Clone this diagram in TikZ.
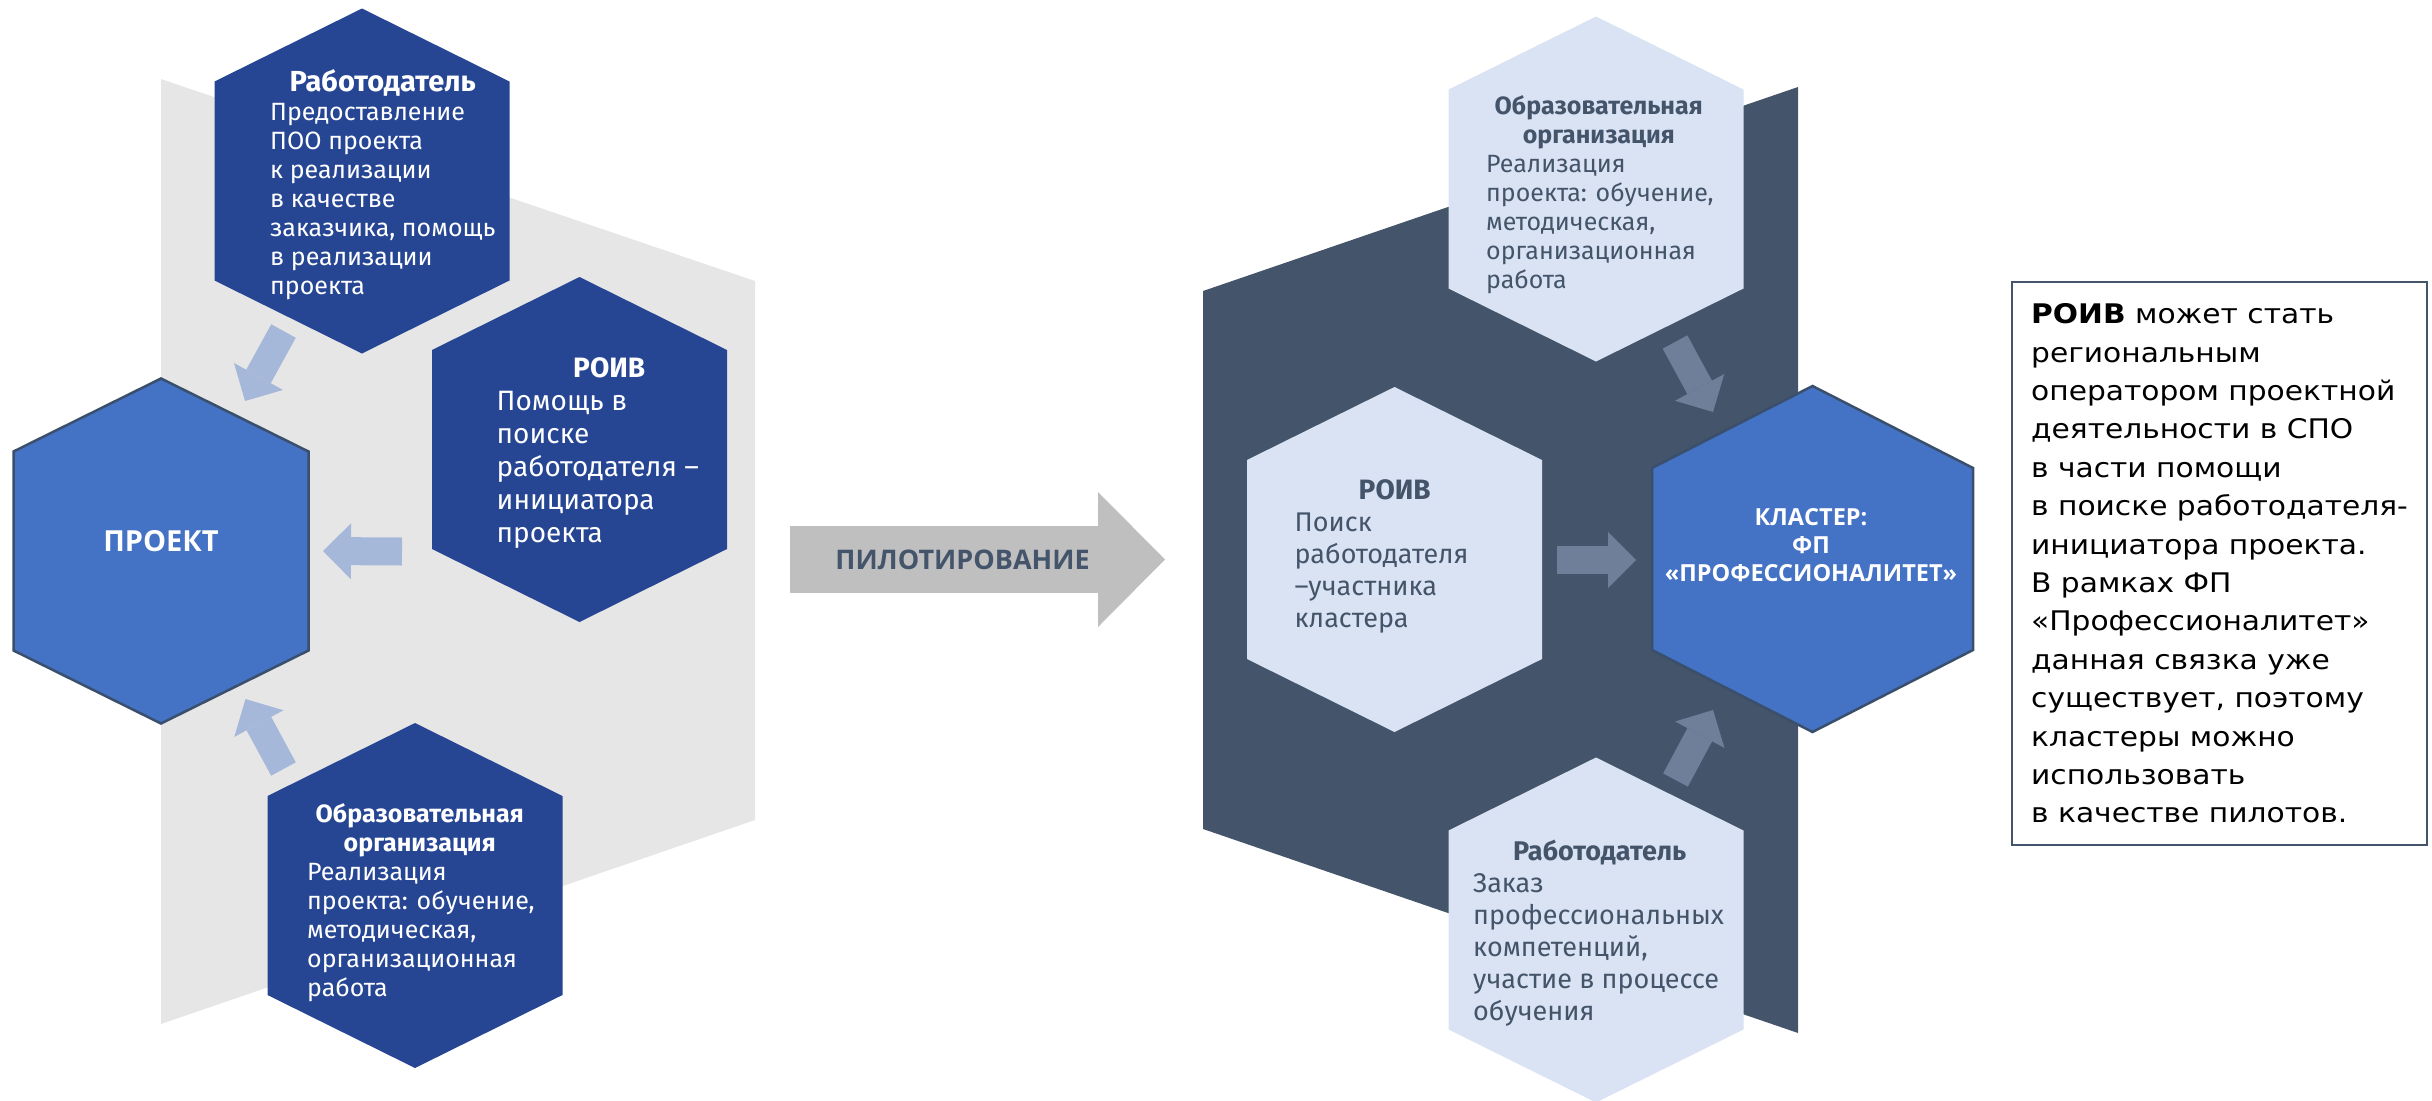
\documentclass[tikz,border=0pt]{standalone}
\usepackage{fontspec}
\setmainfont{Fira Sans}
\newfontfamily\notefont[FakeStretch=1.1]{DejaVu Sans}
\newfontfamily\capsfont{Open Sans}
\usetikzlibrary{arrows.meta,calc}

\definecolor{darkhex}{HTML}{264694}
\definecolor{midhex}{HTML}{4472C4}
\definecolor{palehex}{HTML}{DAE3F3}
\definecolor{slate}{HTML}{44546A}
\definecolor{hexrim}{HTML}{3A4F6C}
\definecolor{lightbg}{HTML}{E7E6E6}
\definecolor{paleflow}{HTML}{A5B8DA}
\definecolor{slateflow}{HTML}{6F7F99}
\definecolor{pilotgray}{HTML}{BFBFBF}

\begin{document}
\begin{tikzpicture}[x=1pt,y=-1pt,
    flowleft/.style={draw=paleflow,line width=28pt,-{Triangle[length=28pt,width=56pt,line width=0pt]}},
    flowright/.style={flowleft,draw=slateflow},
    pilotarrow/.style={draw=pilotgray,line width=67pt,-{Triangle[length=67pt,width=135pt,line width=0pt]}},
    hexsmall/.style={anchor=north west,align=left,inner sep=0pt,font=\fontsize{25}{29}\selectfont},
    hexlarge/.style={hexsmall,font=\fontsize{27}{32}\selectfont},
    hexcaps/.style={inner sep=0pt,align=center,text=white,font=\capsfont\bfseries\fontsize{23.5}{28}\selectfont}]
            \useasboundingbox (0,0) rectangle (2432,1100);

            \newcommand\Hexa[3]{+(0,-#2) -- +(#1,-#3) -- +(#1,#3) -- +(0,#2) -- +(-#1,#3) -- +(-#1,-#3) -- cycle}
            \newcommand\Head[3]{\makebox[#1pt]{\fontsize{#2}{30}\selectfont\bfseries #3}}

            \fill[lightbg] (161,79) -- (755,281) -- (755,820) -- (161,1024) -- cycle;
            \fill[slate] (1203,291) -- (1798,87) -- (1798,1033) -- (1203,829) -- cycle;

            \coordinate (emp) at (362,181);
            \coordinate (roivL) at (579.5,449.5);
            \coordinate (proj) at (161,551);
            \coordinate (ooL) at (415,895.5);
            \coordinate (ooR) at (1596,189);
            \coordinate (roivR) at (1394.5,559.5);
            \coordinate (clu) at (1812.5,559);
            \coordinate (empR) at (1596,930);

            \fill[darkhex] (emp) \Hexa{147.5}{172.5}{99.5};
            \fill[darkhex] (roivL) \Hexa{147.5}{172.5}{99.5};
            \fill[darkhex] (ooL) \Hexa{147.5}{172.5}{99.5};
            \draw[hexrim,line width=2.5pt,fill=midhex] (proj) \Hexa{147.5}{172.5}{99.5};
            \fill[palehex] (ooR) \Hexa{147.5}{172.5}{99.5};
            \fill[palehex] (roivR) \Hexa{147.5}{172.5}{99.5};
            \fill[palehex] (empR) \Hexa{147.5}{172.5}{99.5};
            \draw[hexrim,line width=2.5pt,fill=midhex] (clu) \Hexa{160.5}{173}{91};

            \node[hexsmall,text=white] (emp-text) at ($(emp)+(-92,-112)$)
                {\Head{225}{29}{Работодатель}\\ Предоставление\\ ПОО проекта\\ к реализации\\ в качестве\\ заказчика, помощь\\ в реализации\\ проекта};
            \node[hexlarge,text=white,font=\fontsize{28}{33}\selectfont] (roivL-text) at ($(roivL)+(-83,-92)$)
                {\Head{225}{28}{РОИВ}\\ Помощь в\\ поиске\\ работодателя –\\ инициатора\\ проекта};
            \node[hexsmall,text=white] (ooL-text) at ($(ooL)+(-108,-92)$)
                {\Head{225}{25}{Образовательная}\\ \Head{225}{25}{организация}\\ Реализация\\ проекта: обучение,\\ методическая,\\ организационная\\ работа};
            \node[hexcaps,anchor=base,font=\capsfont\bfseries\fontsize{29}{30}\selectfont] (proj-text) at (proj) {ПРОЕКТ};

            \node[hexsmall,text=slate] (ooR-text) at ($(ooR)+(-110,-94)$)
                {\Head{225}{25}{Образовательная}\\ \Head{225}{25}{организация}\\ Реализация\\ проекта: обучение,\\ методическая,\\ организационная\\ работа};
            \node[hexlarge,text=slate] (roivR-text) at ($(roivR)+(-100,-80)$)
                {\Head{200}{28}{РОИВ}\\ Поиск\\ работодателя\\ –участника\\ кластера};
            \node[hexlarge,text=slate] (empR-text) at ($(empR)+(-123,-90)$)
                {\Head{253}{27}{Работодатель}\\ Заказ\\ профессиональных\\ компетенций,\\ участие в процессе\\ обучения};
            \node[hexcaps,anchor=north] (clu-text) at ($(clu)+(-1.5,-51)$) {КЛАСТЕР:\\ ФП\\ «ПРОФЕССИОНАЛИТЕТ»};

            \draw[flowleft] ($(emp)+(-78.5,150)$) -- ($(proj)+(84,-150)$);
            \draw[flowleft] ($(roivL)+(-177.5,102)$) -- ($(proj)+(162,0)$);
            \draw[flowleft] ($(ooL)+(-131.5,-126.5)$) -- ($(proj)+(84.5,148)$);
            \draw[flowright] ($(ooR)+(79,153)$) -- ($(clu)+(-99.5,-147)$);
            \draw[flowright] ($(roivR)+(162.5,0.5)$) -- ($(clu)+(-176.5,1)$);
            \draw[flowright] ($(empR)+(79.5,-150)$) -- ($(clu)+(-99.5,151)$);

            \coordinate (pilotstart) at (790,559.5);
            \coordinate (pilotend) at (1165,559.5);
            \draw[pilotarrow] (pilotstart) -- (pilotend);
            \node[text=slate,font=\capsfont\bfseries\fontsize{27}{30}\selectfont] (pilot) at (962.5,560) {ПИЛОТИРОВАНИЕ};

            \node[draw=slate,line width=2pt,minimum width=415pt,minimum height=563pt,align=left,inner sep=0pt,
                font=\notefont\fontsize{27}{38.4}\selectfont] (note) at (2219.5,563.5)
                {\textbf{РОИВ} может стать\\ региональным\\ оператором проектной\\ деятельности в СПО\\ в части помощи\\ в поиске работодателя-\\ инициатора проекта.\\ В рамках ФП\\ «Профессионалитет»\\ данная связка уже\\ существует, поэтому\\ кластеры можно\\ использовать\\ в качестве пилотов.};
        \end{tikzpicture}
\end{document}
